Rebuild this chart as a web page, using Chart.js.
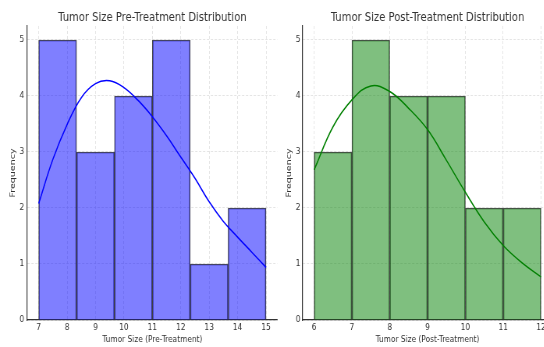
<!DOCTYPE html>
<html>
<head>
<meta charset="utf-8">
<script src="https://cdn.jsdelivr.net/npm/chart.js@4"></script>
<style>
    html, body { margin: 0; padding: 0; background: #fff; overflow: hidden; }
    #fig { position: relative; width: 544px; height: 347px; overflow: hidden; }
    #fig canvas { position: absolute; top: 0; transform: scaleX(0.78); transform-origin: 0 0; }
</style>
</head>
<body>
<div id="fig">
    <canvas id="chart_pre" width="365" height="347" style="left:0;width:365px;height:347px"></canvas>
    <canvas id="chart_post" width="365" height="347" style="left:277px;width:365px;height:347px"></canvas>
</div>
<script>
'use strict';

// histogram bins (edges) and counts
const preEdges = [7, 8.333, 9.667, 11, 12.333, 13.667, 15];
const preCounts = [5, 3, 4, 5, 1, 2];
const postEdges = [6, 7, 8, 9, 10, 11, 12];
const postCounts = [3, 5, 4, 4, 2, 2];

// kde curves
const preKdeX = [7, 7.5, 8, 8.5, 9, 9.5, 10, 10.5, 11, 11.5, 12, 12.5, 13, 13.5, 14, 14.5, 15];
const preKdeY = [2.08, 2.87, 3.49, 3.97, 4.22, 4.27, 4.15, 3.92, 3.63, 3.29, 2.91, 2.53, 2.11, 1.76, 1.48, 1.21, 0.94];
const postKdeX = [6, 6.5, 7, 7.5, 8, 8.5, 9, 9.5, 10, 10.5, 11, 11.5, 12];
const postKdeY = [2.68, 3.45, 3.93, 4.18, 4.08, 3.78, 3.40, 2.85, 2.28, 1.75, 1.33, 1.02, 0.77];

const yTicks = [0, 1, 2, 3, 4, 5];

const FONT = 'DejaVu Sans';

function makeHistConfig(opt) {
    let bars = opt.counts.map((c, i) => ({x: (opt.edges[i] + opt.edges[i + 1]) / 2, y: c})),
        kde = opt.kdeX.map((x, i) => ({x: x, y: opt.kdeY[i]})),
        grid = {color: '#dddddd', lineWidth: 0.8, drawTicks: false, offset: false},
        border = {display: true, color: '#333', width: 1.2, dash: [3, 2]};

    return {
        type: 'bar',
        data: {
            datasets: [{
                type: 'line',
                data: kde,
                borderColor: opt.line,
                borderWidth: 1.5,
                pointRadius: 0,
                tension: 0.4,
                fill: false,
                order: 0
            }, {
                data: bars,
                backgroundColor: opt.fill,
                borderColor: 'rgba(45,45,45,0.85)',
                borderWidth: 1,
                barThickness: 'flex',
                barPercentage: 1,
                categoryPercentage: 1,
                order: 1
            }]
        },
        options: {
            responsive: false,
            animation: false,
            layout: {padding: {left: 0, right: opt.padRight, top: 0, bottom: 0}},
            plugins: {
                legend: {display: false},
                tooltip: {enabled: false},
                title: {
                    display: true,
                    text: opt.title,
                    fullSize: false,
                    color: '#333',
                    font: {family: FONT, size: 12.8, weight: 'normal'},
                    padding: {top: 10, bottom: 0.6}
                }
            },
            scales: {
                x: {
                    type: 'linear',
                    min: opt.xMin,
                    max: opt.xMax,
                    offset: false,
                    afterFit: scale => { scale.height = 27; },
                    ticks: {stepSize: 1, includeBounds: false, autoSkip: false, maxRotation: 0,
                        color: '#333', padding: 2, font: {family: FONT, size: 9.5}},
                    grid: grid,
                    border: border,
                    title: {display: true, text: opt.xLabel, color: '#333',
                        font: {family: FONT, size: 9.5}, padding: {top: 0, bottom: 1.3}}
                },
                y: {
                    min: 0,
                    max: 5.25,
                    afterFit: scale => { scale.width = opt.yWidth; },
                    afterBuildTicks: scale => { scale.ticks = yTicks.map(v => ({value: v})); },
                    ticks: {color: '#333', padding: opt.yTickPad, font: {family: FONT, size: 9.5}},
                    grid: grid,
                    border: border,
                    title: {display: true, text: 'Frequency', color: '#333',
                        font: {family: FONT, size: 9.5}, padding: {top: opt.yTitlePad, bottom: 0}}
                }
            }
        }
    };
}

function renderChart(select, config) {
    let ctx = document.getElementById(select).getContext('2d');
    return new Chart(ctx, config);
}

renderChart('chart_pre', makeHistConfig({
    edges: preEdges, counts: preCounts, kdeX: preKdeX, kdeY: preKdeY,
    fill: 'rgba(0,0,255,0.5)', line: '#0000ff',
    title: 'Tumor Size Pre-Treatment Distribution',
    xLabel: 'Tumor Size (Pre-Treatment)',
    xMin: 6.6, xMax: 15.4,
    yWidth: 35, yTickPad: 4, yTitlePad: 11.3, padRight: 9.4
}));

renderChart('chart_post', makeHistConfig({
    edges: postEdges, counts: postCounts, kdeX: postKdeX, kdeY: postKdeY,
    fill: 'rgba(0,128,0,0.5)', line: '#008000',
    title: 'Tumor Size Post-Treatment Distribution',
    xLabel: 'Tumor Size (Post-Treatment)',
    xMin: 5.7, xMax: 12.3,
    yWidth: 33, yTickPad: 3, yTitlePad: 9.4, padRight: 12
}));
</script>
</body>
</html>
